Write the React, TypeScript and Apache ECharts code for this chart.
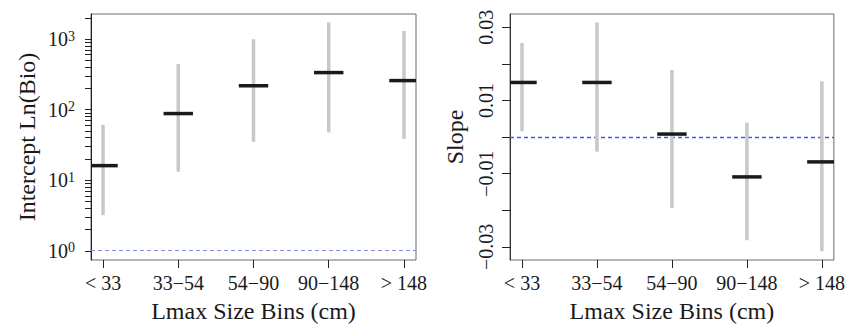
import React, { useEffect, useRef } from "react";
import * as echarts from "echarts";

const categories = ["< 33", "33\u221254", "54\u221290", "90\u2212148", "> 148"];
const catPositions = [1, 2, 3, 4, 5];

const interceptEst = [16.1, 88, 218, 335, 258];
const interceptLo = [3.2, 13.2, 35, 47.7, 38.5];
const interceptHi = [61, 443, 993, 1720, 1300];

const slopeEst = [0.0149, 0.0149, 0.0008, -0.0109, -0.0068];
const slopeLo = [0.0016, -0.004, -0.0194, -0.0282, -0.0312];
const slopeHi = [0.0257, 0.0313, 0.0183, 0.0039, 0.0152];

const interceptMajorTicks = [1, 10, 100, 1000];
const interceptMinorTicks = [2, 3, 4, 5, 6, 7, 8, 9, 20, 30, 40, 50, 60, 70, 80, 90, 200, 300, 400, 500, 600, 700, 800, 900, 2000];
const slopeTicks = [-0.03, -0.02, -0.01, 0, 0.01, 0.02, 0.03];
const slopeLabels = [-0.03, -0.01, 0.01, 0.03];

const FONT = "Liberation Serif, Times New Roman, serif";
const TXT = "#1a1a1a";

export default function App() {
  const ref = useRef<HTMLDivElement>(null);
  useEffect(() => {
    if (!ref.current) return;
    const chart = echarts.init(ref.current, undefined, { renderer: "svg" });
    const lg = (v: number) => Math.log10(v);
    const crisp = (v: number) => Math.round(v - 0.5) + 0.5;
    const LOG_MIN = -0.13;
    const LOG_MAX = 3.355;

    const rangeRender = (params: any, api: any) => {
      const x = api.value(0);
      const p1 = api.coord([x, api.value(1)]);
      const p2 = api.coord([x, api.value(2)]);
      return {
        type: "line",
        shape: { x1: p1[0], y1: p1[1], x2: p2[0], y2: p2[1] },
        style: { stroke: "#c8c8c8", lineWidth: 3.5 },
      };
    };
    const estRender = (params: any, api: any) => {
      const p = api.coord([api.value(0), api.value(1)]);
      return {
        type: "line",
        shape: { x1: p[0] - 14.7, y1: p[1], x2: p[0] + 14.7, y2: p[1] },
        style: { stroke: "#1a1a1a", lineWidth: 3.5 },
      };
    };
    const hLineRender = (color: string, width: number) => (params: any, api: any) => {
      const p = api.coord([api.value(0), api.value(1)]);
      const cs = params.coordSys;
      const y = crisp(p[1]);
      return {
        type: "line",
        shape: { x1: cs.x, y1: y, x2: cs.x + cs.width, y2: y },
        style: { stroke: color, lineWidth: width, lineDash: [4, 3] },
      };
    };

    const xAxisCommon = (gridIndex: number) => ({
      type: "value",
      gridIndex,
      min: 0.84,
      max: 5.16,
      position: "bottom",
      splitLine: { show: false },
      axisLine: { show: false, onZero: false },
      axisTick: { show: true, length: 8, customValues: catPositions, lineStyle: { color: "#222" } },
      axisLabel: {
        show: true,
        customValues: catPositions,
        formatter: (v: number) => categories[Math.round(v) - 1] ?? "",
        fontFamily: FONT,
        fontSize: 20,
        color: TXT,
        margin: 13,
      },
      name: "Lmax Size Bins (cm)",
      nameLocation: "middle",
      nameGap: 39,
      nameTextStyle: { fontFamily: FONT, fontSize: 24, color: TXT },
    });

    const option: any = {
      animation: false,
      textStyle: { fontFamily: FONT },
      grid: [
        { left: 91, top: 14, width: 325, height: 248, show: true, borderColor: "#6b6b6b", borderWidth: 1, backgroundColor: "transparent" },
        { left: 510, top: 14, width: 325, height: 248, show: true, borderColor: "#6b6b6b", borderWidth: 1, backgroundColor: "transparent" },
      ],
      xAxis: [xAxisCommon(0), xAxisCommon(1)],
      yAxis: [
        {
          type: "value",
          gridIndex: 0,
          position: "left",
          min: LOG_MIN,
          max: LOG_MAX,
          splitLine: { show: false },
          axisLine: { show: true, onZero: false, lineStyle: { color: "#222" } },
          axisTick: {
            show: true,
            length: 6,
            customValues: interceptMajorTicks.concat(interceptMinorTicks).map(lg),
            lineStyle: { color: "#222" },
          },
          axisLabel: {
            show: true,
            customValues: interceptMajorTicks.map(lg),
            formatter: (v: number) => `{b|10}{s|${Math.round(v)}}`,
            margin: 16,
            rich: {
              b: { fontFamily: FONT, fontSize: 20, color: TXT },
              s: { fontFamily: FONT, fontSize: 14, color: TXT, verticalAlign: "top" },
            },
          },
          name: "Intercept Ln(Bio)",
          nameLocation: "middle",
          nameGap: 52,
          nameTextStyle: { fontFamily: FONT, fontSize: 24, color: TXT },
        },
        {
          type: "value",
          gridIndex: 1,
          position: "left",
          min: -0.0336,
          max: 0.0336,
          splitLine: { show: false },
          axisLine: { show: true, onZero: false, lineStyle: { color: "#333" } },
          axisTick: { show: true, length: 8, customValues: slopeTicks, lineStyle: { color: "#222" } },
          axisLabel: {
            show: true,
            customValues: slopeLabels,
            rotate: 90,
            margin: 14,
            formatter: (v: number) => (v < 0 ? "\u2212" + Math.abs(v).toFixed(2) : v.toFixed(2)),
            fontFamily: FONT,
            fontSize: 20,
            color: TXT,
          },
          name: "Slope",
          nameLocation: "middle",
          nameGap: 43,
          nameTextStyle: { fontFamily: FONT, fontSize: 24, color: TXT },
        },
      ],
      series: [
        {
          type: "custom",
          name: "refLineLeft",
          xAxisIndex: 0,
          yAxisIndex: 0,
          clip: false,
          z: 1,
          silent: true,
          renderItem: hLineRender("#7f90d8", 1),
          encode: { x: 0, y: 1 },
          data: [[catPositions[0], 0]],
        },
        {
          type: "custom",
          xAxisIndex: 0,
          yAxisIndex: 0,
          clip: true,
          z: 2,
          renderItem: rangeRender,
          encode: { x: 0, y: [1, 2] },
          data: catPositions.map((x, i) => [x, lg(interceptLo[i]), lg(interceptHi[i])]),
        },
        {
          type: "custom",
          xAxisIndex: 0,
          yAxisIndex: 0,
          clip: true,
          z: 3,
          renderItem: estRender,
          encode: { x: 0, y: 1 },
          data: catPositions.map((x, i) => [x, lg(interceptEst[i])]),
        },
        {
          type: "custom",
          name: "refLineRight",
          xAxisIndex: 1,
          yAxisIndex: 1,
          clip: false,
          z: 1,
          silent: true,
          renderItem: hLineRender("#3a60e0", 1.3),
          encode: { x: 0, y: 1 },
          data: [[catPositions[0], 0]],
        },
        {
          type: "custom",
          xAxisIndex: 1,
          yAxisIndex: 1,
          clip: true,
          z: 2,
          renderItem: rangeRender,
          encode: { x: 0, y: [1, 2] },
          data: catPositions.map((x, i) => [x, slopeLo[i], slopeHi[i]]),
        },
        {
          type: "custom",
          xAxisIndex: 1,
          yAxisIndex: 1,
          clip: true,
          z: 3,
          renderItem: estRender,
          encode: { x: 0, y: 1 },
          data: catPositions.map((x, i) => [x, slopeEst[i]]),
        },
      ],
    };
    chart.setOption(option);
    return () => chart.dispose();
  }, []);
  return (
    <div
      ref={ref}
      style={{ position: "fixed", left: 0, top: 0, width: 848, height: 328, background: "#fff" }}
    />
  );
}
